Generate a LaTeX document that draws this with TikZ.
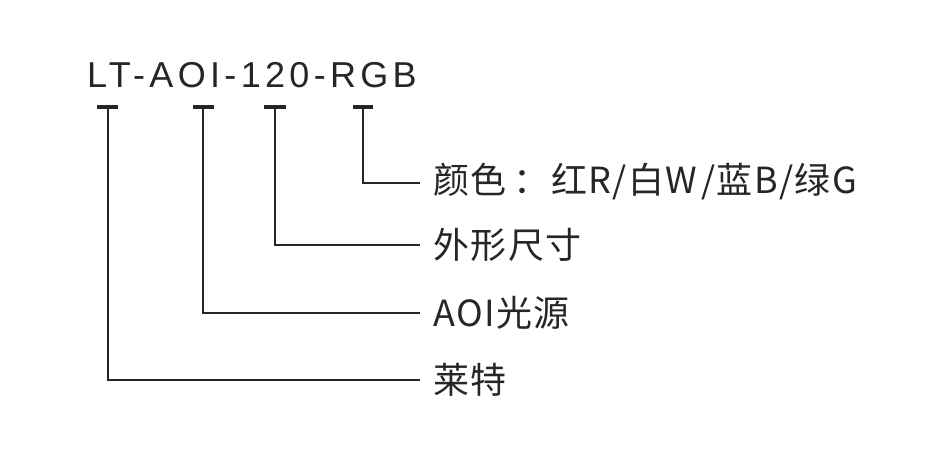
\documentclass[tikz,border=0pt]{standalone}
\usepackage{fontspec}
\setmainfont{Liberation Sans}
\newfontfamily\cjk[LetterSpace=4]{Noto Sans CJK SC}
\begin{document}
\begin{tikzpicture}[x=1pt,y=-1pt,
  ln/.style={line width=1.6pt,black!85},
  bar/.style={line width=4pt,black!85},
  lab/.style={anchor=west,inner sep=0pt,font=\cjk\fontsize{36}{36}\selectfont,text=black!85}]
\useasboundingbox (0,0) rectangle (946,462);
\node[anchor=base west,inner sep=0pt,font=\addfontfeatures{LetterSpace=12}\fontsize{36}{36}\selectfont,text=black!85] (title) at (87,88) {LT-AOI-120-RGB};
\foreach \n/\a/\b/\v/\y in {a/97/118/108/380,b/193/214/203/313,c/264/286/275/245,d/353/373/363/183}{
  \draw[bar] (\a,107) -- (\b,107);
  \coordinate (t\n) at (\v,107);
  \coordinate (e\n) at (420,\y);
  \draw[ln] (t\n) |- (e\n);
}
\node[lab] (l1) at (433,182) {颜色\hspace{0.2em}：红R/白W\hspace{0.1em}/蓝B/绿G};
\node[lab] (l2) at (433,245) {外形尺寸};
\node[lab] (l3) at (433,313) {AOI光源};
\node[lab] (l4) at (433,380) {莱特};
\end{tikzpicture}
\end{document}
